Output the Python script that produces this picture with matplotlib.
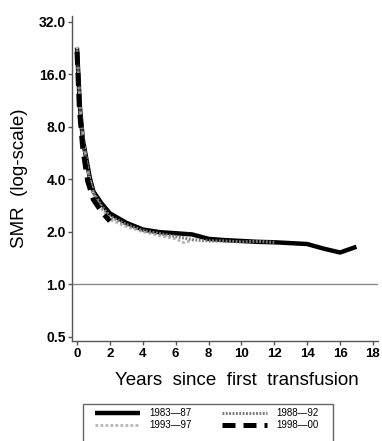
import matplotlib
matplotlib.use("Agg")
import matplotlib.pyplot as plt
from matplotlib.ticker import FixedLocator, FixedFormatter, NullLocator
from matplotlib.patches import Rectangle

plt.rcParams['font.family'] = ['Liberation Sans', 'DejaVu Sans']

# ---- data ----
years_8387 = [0, 0.18, 0.36, 0.78, 1.0, 1.5, 2, 3, 4, 5, 6, 7, 8, 9, 10, 11, 12, 13, 14, 15, 16, 17]
smr_8387   = [22.7, 10.3, 6.7, 4.07, 3.4, 2.9, 2.55, 2.25, 2.06, 1.99, 1.96, 1.93, 1.82, 1.79, 1.77, 1.75, 1.74, 1.72, 1.70, 1.60, 1.52, 1.64]

years_8892 = [0, 0.18, 0.36, 0.78, 1.0, 1.5, 2, 3, 4, 5, 6, 7, 8, 9, 10, 11, 12]
smr_8892   = [22.0, 10.0, 6.5, 4.0, 3.35, 2.8, 2.45, 2.2, 2.03, 1.95, 1.88, 1.80, 1.77, 1.77, 1.75, 1.76, 1.74]

years_9397 = [0, 0.2, 0.4, 0.7, 1.0, 1.5, 2, 3, 4, 5, 6, 6.5, 7]
smr_9397   = [23.0, 10.0, 6.5, 4.3, 3.3, 2.7, 2.35, 2.14, 2.0, 1.9, 1.82, 1.73, 1.78]

years_9800 = [0, 0.15, 0.35, 0.65, 1.0, 1.5, 2.0]
smr_9800   = [21.5, 10.0, 6.0, 3.9, 3.05, 2.6, 2.3]

labels = ["1983\u201487", "1988\u201492", "1993\u201497", "1998\u201400"]
y_ticks = [0.5, 1, 2, 4, 8, 16, 32]
y_ticklabels = ["0.5", "1.0", "2.0", "4.0", "8.0", "16.0", "32.0"]
x_ticks = list(range(0, 19, 2))

W, H = 382, 441
fig = plt.figure(figsize=(W / 100, H / 100), dpi=100)
ax = fig.add_axes([72.3 / W, (H - 341.3) / H, (378 - 72.3) / W, (341.3 - 16) / H])

ax.set_yscale('log')
ax.set_xlim(-0.286, 18.31)
ax.set_ylim(0.4707, 34.5)

ax.axhline(1.0, color='#8a8a8a', lw=1.0, zorder=1)

l1, = ax.plot(years_8387, smr_8387, color='black', lw=3.2, solid_capstyle='butt', zorder=3, label=labels[0])
l3, = ax.plot(years_9397, smr_9397, color='#b5b5b5', lw=2.0, linestyle=(0, (1, 0.8)), zorder=4, label=labels[2])
l2, = ax.plot(years_8892, smr_8892, color='#7a7a7a', lw=2.2, linestyle=(0, (0.6, 0.5)), zorder=5, label=labels[1])
l4, = ax.plot(years_9800, smr_9800, color='black', lw=3.6, linestyle=(0, (2.6, 1.6)), dash_capstyle='butt', zorder=6, label=labels[3])

ax.yaxis.set_major_locator(FixedLocator(y_ticks))
ax.yaxis.set_major_formatter(FixedFormatter(y_ticklabels))
ax.yaxis.set_minor_locator(NullLocator())
ax.set_xticks(x_ticks)

for s in ['top', 'right']:
    ax.spines[s].set_visible(False)
for s in ['left', 'bottom']:
    ax.spines[s].set_color('#555555')
    ax.spines[s].set_linewidth(1.0)

ax.tick_params(axis='both', direction='out', length=3, width=1.0, color='#555555', pad=1.5)
for t in ax.get_yticklabels():
    t.set_fontsize(10)
    t.set_fontweight('bold')
for t in ax.get_xticklabels():
    t.set_fontsize(9.5)
    t.set_fontweight('bold')

ax.set_ylabel("SMR  (log-scale)", fontsize=13.5, labelpad=8)
ax.set_xlabel("Years  since  first  transfusion", fontsize=13.5, labelpad=9, x=0.537)

leg = fig.legend(handles=[l1, l3, l2, l4], labels=[labels[0], labels[2], labels[1], labels[3]],
                 ncol=2, loc='upper left', bbox_to_anchor=(95 / W, (H - 408.5) / H),
                 borderaxespad=0, borderpad=0, handlelength=4.6, handletextpad=1.0,
                 columnspacing=3.1, labelspacing=0.2, frameon=False,
                 prop={'size': 7})
fig.add_artist(Rectangle((83 / W, -0.05), (333 - 83) / W, (H - 404) / H + 0.05,
                         transform=fig.transFigure, fill=False, edgecolor='#666666',
                         lw=1.0, clip_on=False))

fig.savefig("out.png", dpi=100)
